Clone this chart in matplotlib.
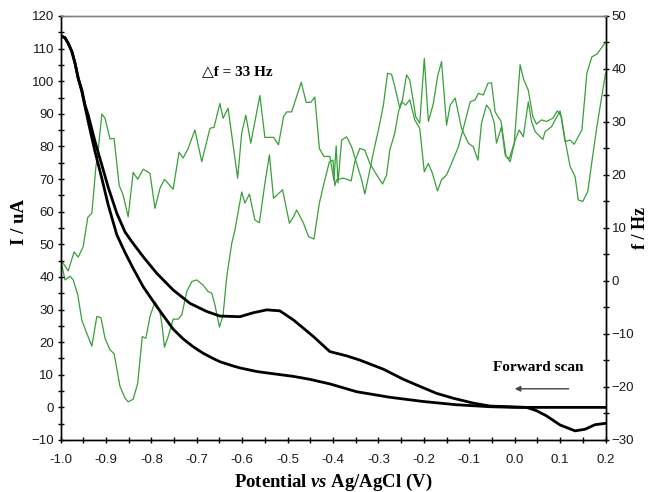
import matplotlib
matplotlib.use("Agg")
import matplotlib.pyplot as plt
from matplotlib.ticker import MultipleLocator

plt.rcParams['font.family'] = ['Liberation Sans', 'DejaVu Sans']
plt.rcParams['mathtext.fontset'] = 'custom'
plt.rcParams['mathtext.it'] = 'Liberation Serif:italic:bold'
plt.rcParams['mathtext.rm'] = 'Liberation Serif:bold'

# current (left axis), two branches of the voltammogram
cv_lower_v = [-1.0, -0.99, -0.983, -0.975, -0.968, -0.961, -0.953, -0.939, -0.924, -0.909,
              -0.895, -0.876, -0.858, -0.84, -0.818, -0.788, -0.752, -0.73, -0.708, -0.686,
              -0.664, -0.649, -0.62, -0.605, -0.568, -0.531, -0.487, -0.451, -0.407, -0.348,
              -0.275, -0.201, -0.128, -0.054, 0.0, 0.1, 0.2]
cv_lower_i = [114.0, 113.3, 111.6, 109.1, 105.5, 100.9, 96.8, 87.6, 78.4, 70.2,
              62.1, 52.9, 47.5, 42.6, 37.0, 30.9, 24.0, 21.0, 18.6, 16.6,
              15.0, 14.0, 12.7, 12.1, 11.0, 10.3, 9.5, 8.6, 7.2, 4.8,
              3.1, 1.8, 0.8, 0.2, 0.0, 0.0, 0.0]

cv_upper_v = [-1.0, -0.99, -0.983, -0.975, -0.968, -0.961, -0.953, -0.946, -0.939, -0.924,
              -0.909, -0.895, -0.876, -0.858, -0.843, -0.818, -0.788, -0.752, -0.715, -0.678,
              -0.649, -0.605, -0.576, -0.546, -0.517, -0.487, -0.443, -0.407, -0.37, -0.341,
              -0.289, -0.245, -0.208, -0.172, -0.135, -0.091, -0.054, -0.01, 0.026, 0.048,
              0.07, 0.1, 0.133, 0.155, 0.177, 0.2]
cv_upper_i = [114.0, 113.3, 111.6, 109.1, 105.5, 100.9, 97.3, 92.7, 89.6, 81.5,
              74.3, 67.5, 59.5, 53.8, 50.8, 46.2, 41.1, 36.0, 31.9, 29.4,
              28.0, 27.8, 29.0, 29.9, 29.6, 26.8, 21.7, 17.1, 15.8, 14.5,
              11.7, 8.6, 6.4, 4.3, 2.8, 1.3, 0.4, 0.2, 0.0, -1.0,
              -2.6, -5.4, -7.2, -6.7, -5.3, -4.9]

# frequency (right axis), two branches
fa_v = [-1.0, -0.983, -0.97, -0.961, -0.95, -0.94, -0.931, -0.922, -0.918, -0.909,
        -0.902, -0.891, -0.882, -0.871, -0.862, -0.851, -0.84, -0.83, -0.818, -0.803,
        -0.792, -0.781, -0.771, -0.752, -0.739, -0.73, -0.719, -0.704, -0.689, -0.671,
        -0.662, -0.649, -0.642, -0.631, -0.61, -0.601, -0.592, -0.581, -0.561, -0.55,
        -0.531, -0.52, -0.509, -0.502, -0.491, -0.47, -0.459, -0.449, -0.44, -0.43,
        -0.42, -0.407, -0.398, -0.393, -0.389, -0.381, -0.37, -0.359, -0.348, -0.337,
        -0.33, -0.319, -0.31, -0.3, -0.289, -0.28, -0.271, -0.264, -0.253, -0.247,
        -0.238, -0.231, -0.223, -0.218, -0.209, -0.199, -0.19, -0.179, -0.17, -0.161,
        -0.15, -0.142, -0.131, -0.117, -0.102, -0.091, -0.081, -0.073, -0.062, -0.054,
        -0.045, -0.04, -0.029, -0.021, -0.01, 0.001, 0.01, 0.019, 0.03, 0.037,
        0.045, 0.062, 0.067, 0.081, 0.1, 0.111, 0.122, 0.131, 0.148, 0.159,
        0.17, 0.181, 0.2]
fa_hz = [4.1, 1.9, 5.5, 4.5, 6.5, 12.0, 12.8, 21.6, 23.8, 31.5,
         30.7, 26.8, 26.9, 18.1, 16.2, 12.1, 20.5, 19.2, 21.1, 20.3,
         13.7, 17.5, 19.2, 17.3, 24.3, 23.2, 25.0, 28.5, 22.5, 28.8,
         29.0, 33.5, 30.7, 32.6, 19.4, 27.9, 31.3, 26.0, 35.0, 27.1,
         27.1, 25.7, 31.0, 31.9, 31.9, 37.5, 33.7, 33.7, 34.7, 25.0,
         23.5, 23.5, 19.0, 25.5, 18.5, 26.6, 27.2, 25.3, 22.2, 19.1,
         16.4, 20.9, 24.7, 28.5, 33.2, 39.2, 39.0, 36.7, 32.6, 34.2,
         38.9, 37.9, 33.8, 31.0, 29.8, 42.0, 30.1, 33.5, 38.5, 41.4,
         29.4, 33.2, 34.5, 28.8, 26.0, 25.3, 22.8, 29.8, 33.2, 32.3,
         29.8, 26.0, 29.1, 23.8, 22.5, 26.6, 28.5, 27.2, 33.8, 30.1,
         28.2, 26.7, 28.2, 29.1, 32.1, 26.3, 26.6, 25.8, 28.5, 39.2,
         42.3, 42.8, 45.0]

fb_v = [-1.0, -0.99, -0.979, -0.972, -0.962, -0.953, -0.942, -0.931, -0.92, -0.911,
        -0.902, -0.891, -0.882, -0.869, -0.858, -0.851, -0.84, -0.83, -0.82, -0.812,
        -0.803, -0.792, -0.782, -0.777, -0.771, -0.763, -0.752, -0.741, -0.733, -0.722,
        -0.711, -0.7, -0.686, -0.675, -0.667, -0.66, -0.65, -0.642, -0.634, -0.623,
        -0.616, -0.601, -0.594, -0.584, -0.572, -0.562, -0.55, -0.54, -0.531, -0.52,
        -0.511, -0.496, -0.487, -0.48, -0.465, -0.454, -0.442, -0.43, -0.42, -0.408,
        -0.4, -0.396, -0.392, -0.377, -0.36, -0.352, -0.341, -0.33, -0.319, -0.308,
        -0.291, -0.282, -0.275, -0.264, -0.256, -0.249, -0.24, -0.231, -0.22, -0.209,
        -0.199, -0.19, -0.181, -0.17, -0.161, -0.15, -0.139, -0.124, -0.113, -0.098,
        -0.087, -0.08, -0.069, -0.059, -0.051, -0.043, -0.03, -0.019, -0.012, -0.001,
        0.012, 0.019, 0.03, 0.04, 0.048, 0.059, 0.07, 0.084, 0.094, 0.103,
        0.111, 0.122, 0.133, 0.14, 0.15, 0.161, 0.17, 0.181, 0.2]
fb_hz = [4.1, 0.2, 0.9, 0.2, -2.6, -7.4, -9.9, -12.3, -6.7, -6.9,
         -10.8, -13.0, -13.7, -19.9, -22.1, -22.8, -22.3, -19.3, -10.5, -10.8,
         -6.7, -3.9, -5.3, -8.0, -12.5, -10.5, -7.2, -7.2, -6.4, -2.0,
         -0.1, 0.2, -0.8, -2.0, -2.3, -4.5, -8.7, -6.4, 0.8, 7.1,
         9.6, 16.8, 14.7, 16.4, 11.5, 11.0, 18.4, 23.8, 15.6, 16.5,
         17.2, 10.9, 12.1, 13.4, 10.9, 8.4, 7.9, 14.7, 18.4, 22.5,
         22.8, 18.0, 19.1, 19.4, 18.9, 22.5, 25.0, 24.7, 22.2, 20.6,
         18.3, 20.0, 24.7, 27.9, 31.9, 33.8, 33.2, 34.2, 30.4, 28.8,
         20.6, 22.2, 20.3, 17.0, 19.1, 20.0, 22.2, 25.3, 28.8, 33.8,
         34.2, 35.4, 35.1, 37.3, 37.4, 31.9, 30.1, 23.5, 23.1, 26.0,
         40.8, 38.2, 36.0, 31.0, 29.6, 30.4, 30.1, 30.7, 32.1, 31.0,
         26.6, 21.6, 19.7, 15.3, 15.0, 16.9, 22.5, 29.1, 39.2]

green = '#3a9e3a'
tick_col = '#1a1a1a'
serif = ['Liberation Serif', 'DejaVu Serif']

fig = plt.figure(figsize=(6.52, 4.92), dpi=100)
ax = fig.add_axes([0.0928, 0.1057, 0.8359, 0.8618])
ax2 = ax.twinx()

ax2.plot(fa_v, fa_hz, color=green, lw=0.9)
ax2.plot(fb_v, fb_hz, color=green, lw=0.9)
ax.plot(cv_lower_v, cv_lower_i, color='black', lw=2.0)
ax.plot(cv_upper_v, cv_upper_i, color='black', lw=2.0)

# keep the black curves over the green ones
ax.set_zorder(ax2.get_zorder() + 1)
ax.patch.set_visible(False)

ax.set_xlim(-1.0, 0.2)
ax.set_ylim(-10, 120)
ax2.set_ylim(-30, 50)

ax.xaxis.set_major_locator(MultipleLocator(0.1))
ax.xaxis.set_minor_locator(MultipleLocator(0.05))
ax.yaxis.set_major_locator(MultipleLocator(10))
ax.yaxis.set_minor_locator(MultipleLocator(5))
ax2.yaxis.set_major_locator(MultipleLocator(10))
ax2.yaxis.set_minor_locator(MultipleLocator(5))
ax.set_xticklabels([f"{t:.1f}" for t in ax.get_xticks()])

for a in (ax, ax2):
    a.tick_params(which='both', direction='inout', color='black', width=1,
                  labelsize=9.5, labelcolor=tick_col)
    a.tick_params(which='major', length=4)
    a.tick_params(which='minor', length=4)
    for side in ('left', 'right', 'bottom'):
        a.spines[side].set_color('black')
        a.spines[side].set_linewidth(1)
    a.spines['top'].set_color('#808080')
    a.spines['top'].set_linewidth(1)
ax.tick_params(axis='y', pad=2.5)
ax.tick_params(axis='x', pad=8)
ax2.tick_params(axis='y', pad=2.5)

ax.text(-0.076, 0.515, 'I / uA', transform=ax.transAxes, rotation=90,
        ha='center', va='center', fontsize=13.5, fontweight='bold', family=serif)
ax.text(1.064, 0.5, 'f / Hz', transform=ax.transAxes, rotation=90,
        ha='center', va='center', fontsize=13, fontweight='bold', family=serif)
ax.text(0.5, -0.099, r'Potential $\mathit{vs}$ Ag/AgCl (V)', transform=ax.transAxes,
        ha='center', va='center', fontsize=13.5, fontweight='bold', family=serif)

ax.text(-0.688, 102.8, '\u25b3f = 33 Hz', ha='left', va='center',
        fontsize=11, fontweight='bold', family=['Liberation Serif', 'DejaVu Sans'])
ax.text(-0.047, 12.1, 'Forward scan', ha='left', va='center',
        fontsize=11, fontweight='bold', family=serif)
ax.annotate('', xy=(-0.006, 5.7), xytext=(0.125, 5.7),
            arrowprops=dict(arrowstyle='-|>', color='#444444', lw=1,
                            mutation_scale=8))

fig.savefig('out.png', dpi=100)
